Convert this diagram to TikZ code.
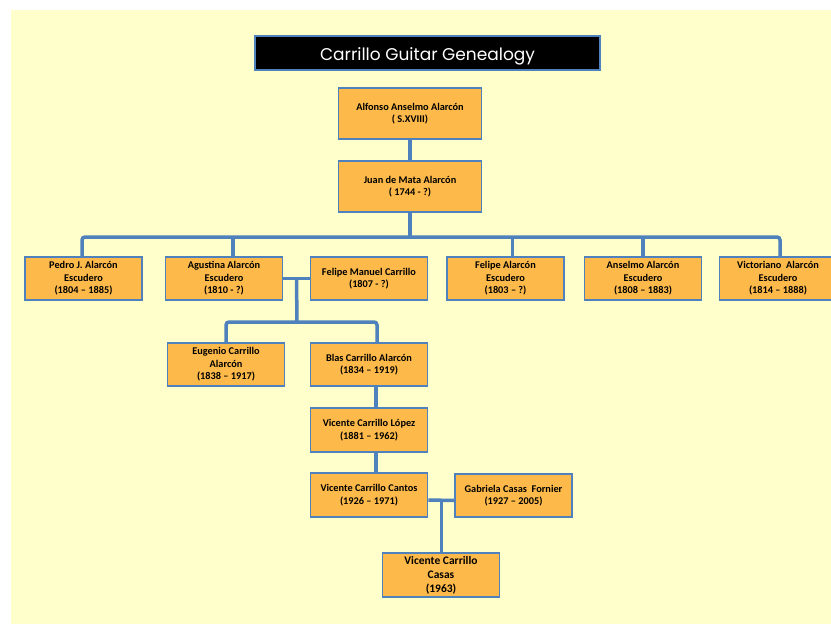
\documentclass[tikz,border=0pt]{standalone}
\usepackage{fontspec}
\usetikzlibrary{calc}
\setmainfont{Carlito}
\newfontfamily\titlefont{Poppins}
\definecolor{bgyellow}{HTML}{FFFFCC}
\definecolor{boxorange}{HTML}{FDB94A}
\definecolor{lineblue}{HTML}{4F81BD}
\begin{document}
\begin{tikzpicture}[x=1pt,y=-1pt,
  person/.style={draw=lineblue, line width=1.6pt, fill=boxorange, align=center,
    minimum width=117pt, minimum height=43pt, inner sep=1pt,
    font=\fontsize{10.3}{12.6}\selectfont\bfseries, text=black},
  conn/.style={draw=lineblue, line width=3.5pt, rounded corners=3pt},
  titlebox/.style={draw=lineblue, line width=1.6pt, fill=black, text=white,
    minimum width=345pt, minimum height=34pt, text height=14pt, text depth=0pt,
    font=\titlefont\fontsize{17}{20}\selectfont}
]
\useasboundingbox (0,0) rectangle (831,624);
\fill[white] (0,0) rectangle (831,624);
\fill[bgyellow] (11,10) rectangle (831,624);
\begin{scope}
\clip (0,0) rectangle (831,624);
\node[titlebox] (title) at (427.5,53) {Carrillo Guitar Genealogy};

\node[person, minimum width=143pt, minimum height=51pt] (alfonso) at (410,113.5) {Alfonso Anselmo Alarcón\\( S.XVIII)};
\node[person, minimum width=143pt, minimum height=51pt] (juan) at (410,186.5) {Juan de Mata Alarcón\\( 1744 - ?)};

\node[person] (pedro) at (83.5,278.5) {Pedro J. Alarcón\\Escudero\\(1804 – 1885)};
\node[person] (agustina) at (224,278.5) {Agustina Alarcón\\Escudero\\(1810 - ?)};
\node[person] (felipem) at (369,278.5) {Felipe Manuel Carrillo\\(1807 - ?)};
\node[person] (felipea) at (505.5,278.5) {Felipe Alarcón\\Escudero\\(1803 – ?)};
\node[person] (anselmo) at (643,278.5) {Anselmo Alarcón\\Escudero\\(1808 – 1883)};
\node[person] (victoriano) at (778,278.5) {Victoriano\ \ Alarcón\\Escudero\\(1814 – 1888)};

\node[person] (eugenio) at (226,364.5) {Eugenio Carrillo\\Alarcón\\(1838 – 1917)};
\node[person] (blas) at (369,364.5) {Blas Carrillo Alarcón\\(1834 – 1919)};
\node[person, minimum height=44pt] (lopez) at (369,430) {Vicente Carrillo López\\(1881 – 1962)};
\node[person, minimum height=44pt] (cantos) at (369,495) {Vicente Carrillo Cantos\\(1926 – 1971)};
\node[person] (gabriela) at (513.5,495.5) {Gabriela Casas\ \ Fornier\\(1927 – 2005)};
\node[person, minimum height=44pt, font=\fontsize{11.5}{14}\selectfont\bfseries] (casas) at (441,575) {Vicente Carrillo\\Casas\\(1963)};

% connectors
\draw[conn] (alfonso.south) -- (juan.north);
\coordinate (busL) at (82,237);
\coordinate (busR) at (780,237);
\draw[conn] (juan.south) -- (juan.south |- busL);
\draw[conn] (pedro.north -| busL) -- (busL) -- (busR) -- (victoriano.north -| busR);
\draw[conn] ([xshift=9]agustina.north) -- ([xshift=9]agustina.north |- busL);
\draw[conn] ([xshift=7]felipea.north) -- ([xshift=7]felipea.north |- busL);
\draw[conn] (anselmo.north) -- (anselmo.north |- busL);

\coordinate (wed1) at ($(agustina.east)!0.5!(felipem.west)$);
\coordinate (kids1) at (297,322);
\draw[conn, rounded corners=0pt] (agustina.east) -- (felipem.west);
\draw[conn] (wed1) -- (kids1);
\draw[conn] (eugenio.north) |- (kids1) -| ([xshift=8]blas.north);

\draw[conn] ([xshift=7]blas.south) -- ([xshift=7]lopez.north);
\draw[conn] ([xshift=7]lopez.south) -- ([xshift=7]cantos.north);

\coordinate (wed2) at ([yshift=-5]$(cantos.east)!0.5!(gabriela.west)$);
\draw[conn, rounded corners=0pt] ([yshift=-5]cantos.east) -- ([yshift=-5]gabriela.west);
\draw[conn] (wed2) -- (casas.north -| wed2);
\end{scope}
\end{tikzpicture}
\end{document}
